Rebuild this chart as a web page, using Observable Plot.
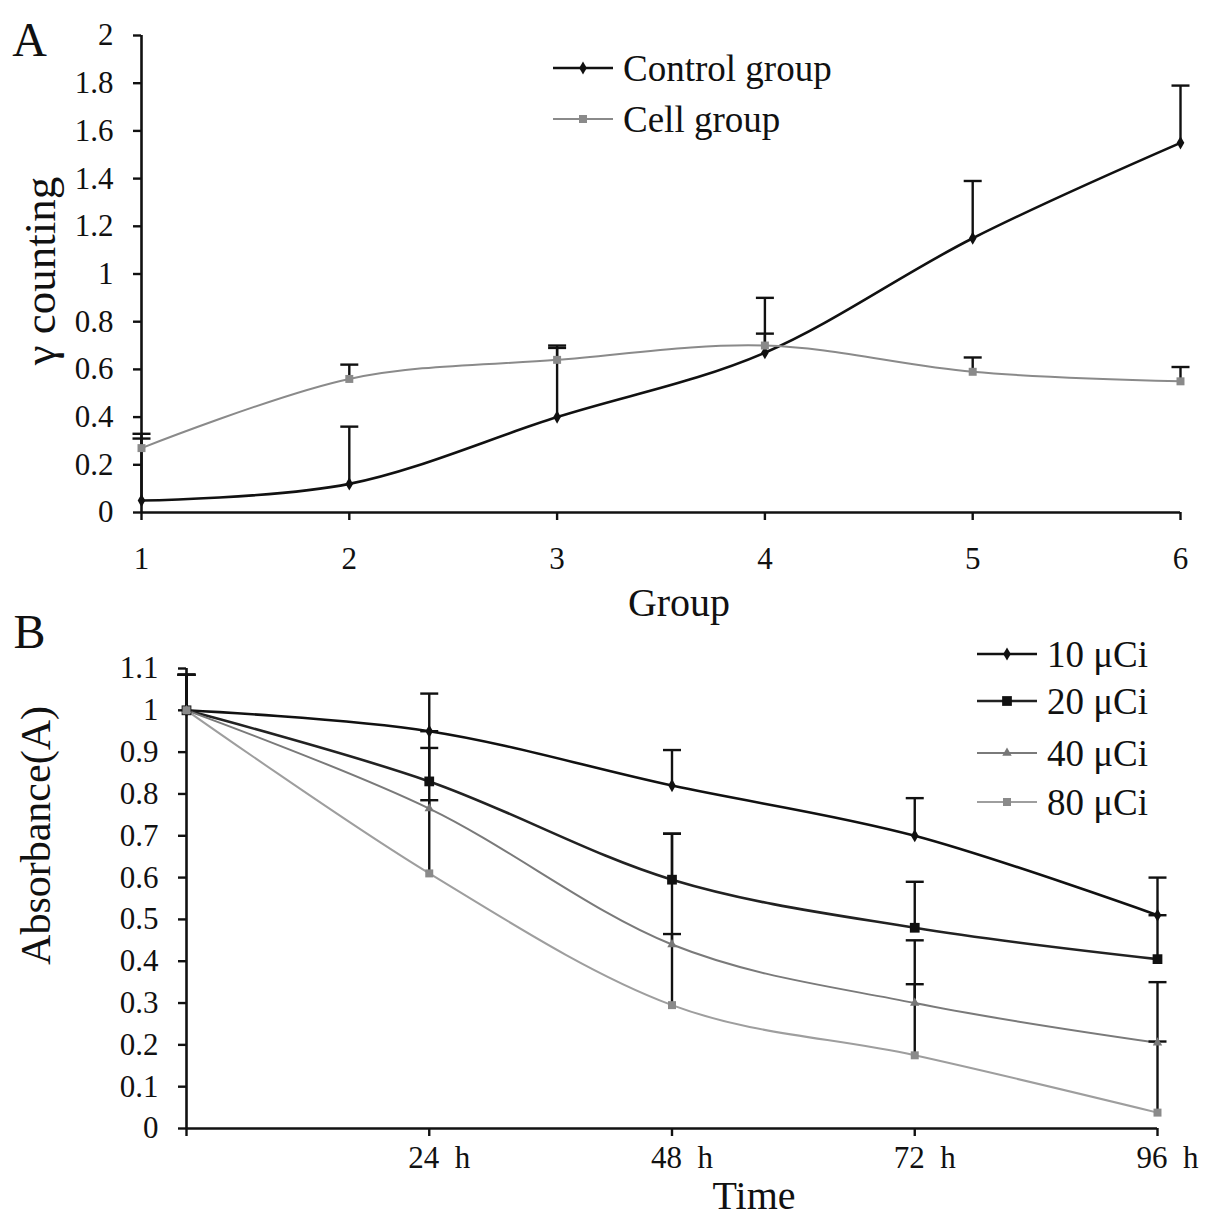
<!DOCTYPE html>
<html>
<head>
<meta charset="utf-8">
<script src="https://cdn.jsdelivr.net/npm/d3@7"></script>
<script src="https://cdn.jsdelivr.net/npm/@observablehq/plot@0.6"></script>
<style>
  body { margin: 0; background: white; }
  #wrap { position: relative; width: 1205px; height: 1220px; font-family: "Liberation Serif", serif; }
  .leg { position: absolute; display: flex; align-items: center; font-size: 37px; line-height: 1; white-space: pre; color: #111; }
  .leg svg { margin-right: 10px; }
</style>
</head>
<body>
<div id="wrap"></div>
<script>
// panel A
const groups = [1, 2, 3, 4, 5, 6];
const controlMean = [0.05, 0.12, 0.40, 0.67, 1.15, 1.55];
const controlErr = [0.28, 0.24, 0.29, 0.23, 0.24, 0.24];
const cellMean = [0.27, 0.56, 0.64, 0.70, 0.59, 0.55];
const cellErr = [0.04, 0.06, 0.06, 0.05, 0.06, 0.06];
const yTicksA = [0, 0.2, 0.4, 0.6, 0.8, 1, 1.2, 1.4, 1.6, 1.8, 2];

// panel B
const hours = [0, 24, 48, 72, 96];
const hourLabels = ["24  h", "48  h", "72  h", "96  h"];
const doses = ["10 μCi", "20 μCi", "40 μCi", "80 μCi"];
const absMean = [
  [1.00, 0.95, 0.82, 0.70, 0.51],
  [1.00, 0.83, 0.595, 0.48, 0.405],
  [1.00, 0.765, 0.44, 0.30, 0.205],
  [1.00, 0.61, 0.295, 0.175, 0.038]
];
const absErr = [
  [0.085, 0.09, 0.085, 0.09, 0.09],
  [0.085, 0.08, 0.11, 0.11, 0.105],
  [0.085, 0.02, 0.265, 0.15, 0.145],
  [0.085, 0.34, 0.17, 0.17, 0.17]
];
const yTicksB = [0, 0.1, 0.2, 0.3, 0.4, 0.5, 0.6, 0.7, 0.8, 0.9, 1, 1.1];

const FONT = "Liberation Serif";
const TICK_FONT = 31;
const fmt = d3.format("~g");

// horizontal cap for error bars
const capSymbol = { draw(ctx) { ctx.moveTo(-9, 0); ctx.lineTo(9, 0); } };

const seriesA = [
  { name: "Control group", mean: controlMean, err: controlErr, color: "#111", width: 2.6, symbol: "diamond", r: 4 },
  { name: "Cell group", mean: cellMean, err: cellErr, color: "#8a8a8a", width: 2, symbol: "square", r: 4.5 }
];
const seriesB = [
  { color: "#111", width: 2.6, symbol: "diamond", r: 4, fill: "#111" },
  { color: "#222", width: 2.6, symbol: "square", r: 5.5, fill: "#111" },
  { color: "#7a7a7a", width: 2, symbol: "triangle", r: 3.5, fill: "#777" },
  { color: "#9e9e9e", width: 2, symbol: "square", r: 4.5, fill: "#8a8a8a" }
];

function rowsFor(xs, mean, err) {
  return xs.map((x, i) => ({ x, y: mean[i], top: mean[i] + err[i] }));
}

// smoothed line like the spreadsheet's (cardinal, tension 0)
function seriesMarks(rows, s) {
  return [
    Plot.line(rows, { x: "x", y: "y", stroke: s.color, strokeWidth: s.width, curve: "cardinal", tension: 0 })
  ];
}
function errMarks(rows) {
  return [
    Plot.ruleX(rows, { x: "x", y1: "y", y2: "top", stroke: "#111", strokeWidth: 2.4 }),
    Plot.dot(rows, { x: "x", y: "top", symbol: capSymbol, stroke: "#111", strokeWidth: 2.4, fill: "none" })
  ];
}
function dotMarks(rows, s) {
  return [Plot.dot(rows, { x: "x", y: "y", symbol: s.symbol, r: s.r, fill: s.fill || s.color, stroke: "none" })];
}

// ---------- panel A ----------
let aRows = seriesA.map(s => rowsFor(groups, s.mean, s.err));
let lineA = [], errA = [], dotA = [];
seriesA.forEach((s, i) => {
  lineA = lineA.concat(seriesMarks(aRows[i], s));
  errA = errA.concat(errMarks(aRows[i]));
  dotA = dotA.concat(dotMarks(aRows[i], s));
});

let plotA = Plot.plot({
  width: 1205,
  height: 610,
  marginLeft: 141,
  marginRight: 25,
  marginTop: 35,
  marginBottom: 98,
  style: { fontFamily: FONT, fontSize: TICK_FONT + "px", color: "#111", background: "white", overflow: "visible" },
  x: { domain: [1, 6] },
  y: { domain: [0, 2] },
  marks: [
    Plot.axisY({ ticks: yTicksA, tickSize: 8, tickPadding: 20, tickFormat: fmt, label: null, strokeWidth: 2.4, fontSize: TICK_FONT }),
    Plot.axisX({ ticks: groups, tickSize: 8, tickFormat: null, text: null, label: null, strokeWidth: 2.4 }),
    Plot.axisX({ ticks: groups, tickSize: 0, tickPadding: 34, tickFormat: fmt, label: null, fontSize: TICK_FONT }),
    Plot.ruleX([1], { y1: 0, y2: 2, stroke: "#111", strokeWidth: 2.6 }),
    Plot.ruleY([0], { x1: 1, x2: 6, stroke: "#111", strokeWidth: 2.6 }),
    Plot.text(["γ counting"], { frameAnchor: "left", rotate: -90, dx: -101, dy: -3, fontSize: 45, textAnchor: "middle", lineAnchor: "middle" }),
    Plot.text(["Group"], { frameAnchor: "bottom", dx: 18, dy: 91, fontSize: 40, lineAnchor: "middle" }),
    Plot.text(["A"], { frameAnchor: "top-left", dx: -112, dy: 5, fontSize: 48, lineAnchor: "middle", textAnchor: "middle" })
  ].concat(lineA).concat(errA).concat(dotA)
});

// ---------- panel B ----------
let bRows = seriesB.map((s, i) => rowsFor(hours, absMean[i], absErr[i]));
let lineB = [], errB = [], dotB = [];
seriesB.forEach((s, i) => {
  lineB = lineB.concat(seriesMarks(bRows[i], s));
  errB = errB.concat(errMarks(bRows[i]));
  dotB = dotB.concat(dotMarks(bRows[i], s));
});

let plotB = Plot.plot({
  width: 1205,
  height: 610,
  marginLeft: 186,
  marginRight: 48,
  marginTop: 58,
  marginBottom: 92,
  style: { fontFamily: FONT, fontSize: TICK_FONT + "px", color: "#111", background: "white", overflow: "visible" },
  x: { domain: [0, 96] },
  y: { domain: [0, 1.1] },
  marks: [
    Plot.axisY({ ticks: yTicksB, tickSize: 8, tickPadding: 20, tickFormat: fmt, label: null, strokeWidth: 2.4, fontSize: TICK_FONT }),
    Plot.axisX({ ticks: hours, tickSize: 8, tickFormat: null, text: null, label: null, strokeWidth: 2.4 }),
    Plot.axisX({ ticks: hours.slice(1), tickSize: 0, tickPadding: 17, tickFormat: d => hourLabels[hours.indexOf(d) - 1], label: null, fontSize: TICK_FONT, dx: 10 }),
    Plot.ruleX([0], { y1: 0, y2: 1.1, stroke: "#111", strokeWidth: 2.6 }),
    Plot.ruleY([0], { x1: 0, x2: 96, stroke: "#111", strokeWidth: 2.6 }),
    Plot.text(["Absorbance(A)"], { frameAnchor: "left", rotate: -90, dx: -150, dy: -63, fontSize: 42, textAnchor: "middle", lineAnchor: "middle" }),
    Plot.text(["Time"], { frameAnchor: "bottom", dx: 82, dy: 68, fontSize: 40, lineAnchor: "middle" }),
    Plot.text(["B"], { frameAnchor: "top-left", dx: -157, dy: -36, fontSize: 48, lineAnchor: "middle", textAnchor: "middle" })
  ].concat(lineB).concat(errB).concat(dotB)
});

// keep double spaces in the hour labels
plotB.querySelectorAll("text").forEach(t => t.setAttribute("xml:space", "preserve"));
plotB.style.whiteSpace = "pre";

let wrap = document.getElementById("wrap");
wrap.append(plotA);
wrap.append(plotB);

// legends
const symbolTypes = { diamond: d3.symbolDiamond, square: d3.symbolSquare, triangle: d3.symbolTriangle };
function addLegend(left, top, label, s) {
  let path = d3.symbol(symbolTypes[s.symbol], s.r * s.r * Math.PI)();
  let div = document.createElement("div");
  div.className = "leg";
  div.style.left = left + "px";
  div.style.top = (top - 20) + "px";
  div.style.height = "40px";
  div.innerHTML = `<svg width="60" height="20" viewBox="0 0 60 20">
      <line x1="0" x2="60" y1="10" y2="10" stroke="${s.color}" stroke-width="${s.width}"/>
      <path d="${path}" transform="translate(30,10)" fill="${s.fill || s.color}"/>
    </svg><span>${label}</span>`;
  wrap.append(div);
}
addLegend(553, 68, seriesA[0].name, seriesA[0]);
addLegend(553, 119, seriesA[1].name, seriesA[1]);
const legTops = [654, 701, 753, 802];
doses.forEach((d, i) => addLegend(977, legTops[i], d, seriesB[i]));
</script>
</body>
</html>
